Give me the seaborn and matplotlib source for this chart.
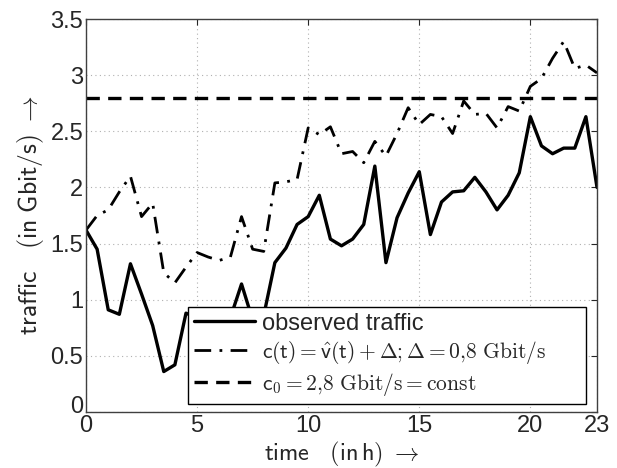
import numpy as np
import pandas as pd
import matplotlib
matplotlib.use('Agg')
import matplotlib.pyplot as plt
import matplotlib.transforms as mtransforms
import seaborn as sns

# --- data ---
time_h = [0, 0.5, 1, 1.5, 2, 2.5, 3, 3.5, 4, 4.5, 5, 5.5, 6, 6.5, 7, 7.5,
          8, 8.5, 9, 9.5, 10, 10.5, 11, 11.5, 12, 12.5, 13, 13.5, 14, 14.5,
          15, 15.5, 16, 16.5, 17, 17.5, 18, 18.5, 19, 19.5, 20, 20.5, 21,
          21.5, 22, 22.5, 23]
observed = [1.62, 1.45, 0.91, 0.87, 1.32, 1.05, 0.77, 0.36, 0.42, 0.88,
            0.84, 0.80, 0.76, 0.84, 1.14, 0.82, 0.86, 1.33, 1.46, 1.67,
            1.74, 1.93, 1.54, 1.48, 1.54, 1.67, 2.19, 1.33, 1.73, 1.95,
            2.14, 1.58, 1.87, 1.96, 1.97, 2.09, 1.96, 1.80, 1.93, 2.13,
            2.63, 2.37, 2.30, 2.35, 2.35, 2.63, 2.00]
capacity = [1.62, 1.75, 1.80, 1.96, 2.10, 1.74, 1.86, 1.24, 1.15, 1.29,
            1.42, 1.38, 1.35, 1.38, 1.74, 1.45, 1.43, 2.04, 2.05, 2.07,
            2.53, 2.47, 2.54, 2.30, 2.32, 2.22, 2.41, 2.28, 2.48, 2.71,
            2.56, 2.65, 2.63, 2.48, 2.77, 2.65, 2.66, 2.53, 2.72, 2.68,
            2.90, 2.97, 3.15, 3.30, 3.06, 3.09, 3.02]
c0_level = 2.8
x_ticks = [0, 5, 10, 15, 20, 23]
y_ticks = [0, 0.5, 1, 1.5, 2, 2.5, 3, 3.5]
y_ticklabels = ['0', '0.5', '1', '1.5', '2', '2.5', '3', '3.5']

df = pd.DataFrame({'time': time_h, 'observed': observed, 'capacity': capacity})

sns.set_style('white')
plt.rcParams['font.family'] = ['Liberation Sans', 'DejaVu Sans']
plt.rcParams['mathtext.fontset'] = 'cm'

fig = plt.figure(figsize=(6.17, 4.68), dpi=100)
ax = fig.add_axes([0.1394, 0.1197, 0.8282, 0.8397])

sns.lineplot(data=df, x='time', y='observed', ax=ax, color='black', lw=2.4,
             label='observed traffic')
sns.lineplot(data=df, x='time', y='capacity', ax=ax, color='black', lw=2.0,
             linestyle=(0, (6, 3, 1, 3)),
             label=r'$\mathsf{c(t)} = \mathsf{\hat{v}(t)} + \Delta;\Delta = \mathsf{0{,}8}\ \mathrm{Gbit/s}$')
ax.axhline(c0_level, color='black', lw=2.4, linestyle=(0, (4, 2.5)),
           label=r'$\mathsf{c_0} = \mathsf{2{,}8}\ \mathrm{Gbit/s} = \mathrm{const}$')

ax.set_xlim(0, 23)
ax.set_ylim(0, 3.5)
ax.set_xticks(x_ticks)
ax.set_yticks(y_ticks)
ax.set_xticklabels([str(v) for v in x_ticks])
ax.set_yticklabels(y_ticklabels)
ax.tick_params(direction='in', top=True, right=True, labelsize=17,
               length=4, width=0.8, pad=2)
ax.grid(True, linestyle=(0, (1, 3)), color='#b0b0b0', lw=0.8)
for s in ax.spines.values():
    s.set_color('#404040')
    s.set_linewidth(1.0)

# the y "0" sits a little higher in the original, clear of the x "0"
lbl0 = ax.get_yticklabels()[0]
lbl0.set_transform(lbl0.get_transform() + mtransforms.ScaledTranslation(0, 7 / 100, fig.dpi_scale_trans))

ax.set_xlabel(r'$\mathsf{time}\quad\mathsf{(in\,h)}\ \rightarrow$', fontsize=17.5, labelpad=2)
ax.set_ylabel(r'$\mathsf{traffic}\quad\mathsf{(in\ Gbit/s)}\ \rightarrow$', fontsize=18.5, labelpad=3)

leg = ax.legend(loc='lower left', bbox_to_anchor=(0.1996, 0.0204, 0.779, 0.24),
                mode='expand', fontsize=17, frameon=True, fancybox=False,
                edgecolor='black', framealpha=1, borderaxespad=0,
                handlelength=2.6, handletextpad=0.3, labelspacing=0.2,
                borderpad=0.25)
leg.get_frame().set_linewidth(1.0)
for txt in leg.get_texts()[1:]:
    txt.set_fontsize(15.5)

fig.savefig('out.png', dpi=100)
